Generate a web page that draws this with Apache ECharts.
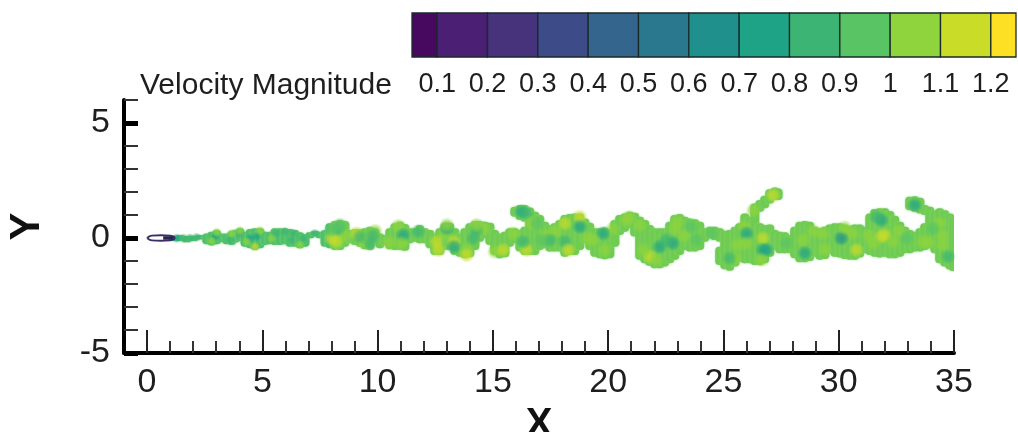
<!DOCTYPE html>
<html><head><meta charset="utf-8">
<style>html,body{margin:0;padding:0;background:#fff}#c{width:1018px;height:432px}#c canvas{filter:blur(.5px)}</style>
<script src="https://cdn.jsdelivr.net/npm/echarts@6/dist/echarts.min.js"></script>
</head><body><div id="c"></div>
<script>
const legendEdges=[0.05,0.1,0.2,0.3,0.4,0.5,0.6,0.7,0.8,0.9,1,1.1,1.2,1.25];
const legendColors=['#47085f','#4a1f74','#47327c','#3d4c89','#33658d','#2a788e','#20908c','#1fa387','#3cb574','#58c464','#8fd43c','#c8dc28','#fde023'];
const legendLabels=[0.1,0.2,0.3,0.4,0.5,0.6,0.7,0.8,0.9,1,1.1,1.2];
const xLabels=[0,5,10,15,20,25,30,35];
const xMinor=[1,2,3,4,6,7,8,9,11,12,13,14,16,17,18,19,21,22,23,24,26,27,28,29,31,32,33,34];
const yLabels=[-5,0,5];
const yMinor=[-4,-3,-2,-1,1,2,3,4,6];
// plume silhouette: [x, yLow, yHigh]
const plumeSegments=[
[1.14,-.13,.1],[1.43,-.13,.13],[1.72,-.19,.09],[2.01,-.13,.1],[2.3,-.06,.13],[2.59,-.27,.2],[2.8,-.33,.27],[3.02,-.27,.35],[3.24,-.19,.2],[3.45,-.27,.2],[3.67,-.3,.3],[3.85,-.2,.36],[4.03,-.13,.42],[4.25,-.38,.27],[4.47,-.45,.39],[4.68,-.52,.42],[4.9,-.45,.42],[5.12,-.3,.27],[5.33,-.27,.27],[5.55,-.3,.42],[5.77,-.3,.42],[5.98,-.27,.42],[6.2,-.38,.39],[6.42,-.38,.35],[6.63,-.45,.25],[6.85,-.38,.16],[7.07,-.01,.25],[7.28,.1,.3],[7.5,-.01,.27],[7.72,-.38,.35],[7.93,-.45,.64],[8.15,-.52,.74],[8.37,-.52,.78],[8.58,-.38,.74],[8.8,-.23,.35],
[9.02,-.3,.39],[9.23,-.38,.38],[9.45,-.49,.42],[9.67,-.52,.49],[9.88,-.23,.42],[10.1,-.45,.2],[10.32,-.3,.13],[10.53,-.49,.42],[10.75,-.52,.64],[10.97,-.52,.71],[11.18,-.55,.61],[11.4,-.23,.42],[11.62,-.16,.42],[11.83,-.23,.56],[12.05,-.23,.42],[12.27,-.45,.35],[12.48,-.74,.2],[12.7,-.74,.42],[12.92,-.52,.66],[13.13,-.52,.66],[13.35,-.74,.42],[13.57,-.81,.2],[13.78,-.88,.42],[14,-.84,.64],[14.22,-.52,.74],[14.43,-.16,.74],[14.65,-.01,.71],[14.87,-.3,.66],[15.08,-.74,.35],[15.3,-.88,.2],[15.52,-.84,.27],[15.73,-.38,.42],[15.95,-.23,.42],[15.95,.92,1.36],[16.17,-.59,.35],[16.17,.78,1.43],[16.38,-.74,.49],[16.38,.71,1.43],[16.6,-.74,1.33],[16.82,-.74,1.14],[17.03,-.52,1],[17.25,-.45,.71],[17.47,-.59,.56],[17.68,-.59,.64],[17.9,-.59,.78],
[18.12,-.81,1],[18.34,-.74,1.04],[18.55,-.74,1.07],[18.77,-.52,1.07],[18.99,-.23,.85],[19.2,-.52,.66],[19.42,-.81,.42],[19.64,-.88,.42],[19.85,-.92,.46],[20.07,-.88,.38],[20.29,-.38,.78],[20.5,.13,1],[20.72,.27,1.07],[20.94,.42,1.14],[21.15,.06,1.1],[21.37,-.95,.92],[21.59,-1.1,.78],[21.8,-1.21,.56],[22.02,-1.32,.42],[22.24,-1.32,.42],[22.45,-1.24,.42],[22.67,-1.1,.71],[22.89,-.95,1],[23.1,-.74,1.04],[23.32,-.52,.92],[23.54,-.59,.85],[23.76,-.59,.81],[23.97,-.52,.71],[24.19,-.16,.42],[24.41,-.01,.49],[24.62,-.09,.49],[24.84,-.16,.42],[24.84,-1.17,-.38],[25.06,-1.36,.32],[25.27,-1.42,.35],[25.5,-1.24,.49],[25.7,-1.03,.64],[25.93,-1.1,1.07],[26.14,-1.1,.92],[26.36,-1.17,1.5],[26.58,-1.17,.64],[26.58,1.14,1.65],[26.79,-1.1,.56],[26.79,1.29,1.84],[27.01,-.81,.59],[27.01,1.5,2.12],[27.23,-.52,.35],[27.23,1.65,2.2],[27.37,1.65,2.15],
[27.44,-.66,.27],[27.66,-.66,.25],[27.88,-.66,.13],[28.09,-.88,.49],[28.31,-1.05,.71],[28.53,-1.05,.74],[28.74,-1,.71],[28.96,-.81,.49],[29.18,-.95,.42],[29.4,-.91,.49],[29.61,-.66,.59],[29.83,-.81,.64],[30.05,-.85,.64],[30.26,-.91,.59],[30.48,-.95,.53],[30.7,-.95,.59],[30.91,-.85,.59],[31.13,-.66,.49],[31.35,-.74,1.07],[31.56,-.81,1.26],[31.78,-.85,1.29],[32,-.81,1.29],[32.22,-.88,1.17],[32.43,-.88,.97],[32.65,-.81,.71],[32.87,-.66,.49],[33.08,-.66,.35],[33.08,1.21,1.79],[33.3,-.59,.27],[33.3,1.14,1.82],[33.52,-.59,.42],[33.52,1.07,1.75],[33.73,-.52,.64],[33.73,1,1.43],[33.95,-.45,1.36],[34.17,-.66,1.21],[34.38,-1.1,1.29],[34.6,-1.24,1.21],[34.82,-1.37,1.07],[34.97,-1.43,.95]
];
// velocity patches inside the plume: [x, y, velocity]
const plumePatches=[
[8.6,.1,1.05],[9.9,.3,1.05],[10.5,-.2,1.05],[12.9,.2,1.05],[14.6,.4,1.05],[17.3,.1,1.05],[17.7,.3,1.05],[19.1,0,1.05],[20.2,.4,1.05],[20.9,.9,1.05],[22.9,.4,1.05],[23.3,.1,1.05],[24.5,.2,.95],[25.5,-.9,1.05],[25.9,.5,1.05],[26.3,1.2,1.05],[29.3,.2,1.05],[29.4,-.5,1.05],[31.3,.1,1.05],[32.6,.3,1.05],[33.9,-.2,1.05],[34.5,.1,1.05],[34.5,-.3,1.05],[28.9,.3,1],[30.6,.2,1.05],
[1.29,-.01,.75],[1.58,-.01,.85],[1.86,0,.8],[2.15,.03,.85],[2.95,.06,.75],[2.8,-.13,1.05],[3.02,.25,1.05],[3.6,-.09,.8],[3.67,.2,1],[4.03,.2,.8],[4.03,.32,1.05],[4.47,-.01,.75],[4.68,-.38,1.15],[4.32,-.16,1.05],[4.75,.06,.75],[4.9,.32,1.05],[5.4,-.01,1.05],[5.62,.2,.85],[5.98,.27,.85],[6.34,.2,.85],[6.27,-.09,.85],[6.78,-.01,.8],[6.63,-.3,1.05],[7.28,.2,.85],[8,-.01,1.1],[8.22,-.16,1.15],[8.29,.42,.8],[8.37,.56,.9],[8,.35,.95],
[9.09,.2,1.1],[9.38,-.16,1.05],[9.23,.06,.85],[9.81,.13,.8],[9.67,-.23,.85],[10.9,.52,1.05],[11.11,.13,.7],[11.04,-.23,1.05],[11.76,.27,.85],[12.56,-.16,1.1],[12.63,-.52,1.1],[13,.42,.75],[13,.56,1.05],[13.31,-.16,1.15],[13.31,-.38,.7],[13.86,-.52,1.05],[13.86,-.74,1.1],[14.29,.35,.85],[14.29,.56,1],[14.15,-.01,.85],[15.08,-.59,1.05],[15.45,-.52,1.1],[15.88,.2,1.05],[16.24,1.14,.72],[16.46,1.07,.8],[16.67,.64,1.05],[16.46,-.52,1.1],[16.31,-.16,.85],[16.89,.64,.9],[17.47,-.09,.85],[17.11,-.09,.95],
[18.12,.64,1.1],[18.77,.92,1.1],[18.77,.49,.75],[18.12,-.16,.85],[18.27,-.52,1.1],[19.78,.2,.75],[19.85,-.52,1.05],[19.35,-.09,1],[20.79,.78,1],[21.37,.56,1.05],[22.24,-.38,.72],[22.8,-.23,.75],[22.52,-.09,.8],[21.8,-.81,1.1],[22.09,-.95,1.05],[21.52,-.52,1],[23,.71,1.05],[23.83,-.09,.95],[23.6,.49,.9],[25.27,-.88,.85],[26,.2,.75],[26.71,-.01,1.15],[26.71,-.52,.72],[26.87,-.52,.7],[26,-.23,1.05],[25.6,-.3,1.05],
[27.15,1.86,1.15],[26.65,-.95,1],[28.45,-.09,1.05],[28.53,-.66,.72],[30.11,-.01,.68],[30.77,-.52,1.1],[30.26,.45,1],[31.85,.78,.78],[31.63,.92,.85],[31.85,.06,1.1],[32,.13,1.15],[32.35,-.16,1.05],[31.49,-.23,1],[33.3,1.43,.72],[33.66,-.16,1.08],[34.38,.64,1.05],[34.74,-.81,.8],[34.09,.42,.9],[32.94,-.01,.9],[27.73,-.23,.9]
];
const bodyOutline=[[0,0],[.2,.1],[.6,.12],[1,.1],[1.2,0],[1,-.1],[.6,-.12],[.2,-.1],[0,0]];
const bodyCore=[[.7,0],[1.15,0]];

function patchColor(v){let i=0;while(i<legendColors.length-1&&v>=legendEdges[i+1])i++;return legendColors[i];}
const font='"Liberation Sans",Arial,sans-serif', ink='#1e1e1e';
const chart=echarts.init(document.getElementById('c'),null,{renderer:'canvas'});
const hidden={show:false};
chart.setOption({
 animation:false,backgroundColor:'#fff',
 title:{text:'Velocity Magnitude',left:135,top:66,textStyle:{fontFamily:font,fontSize:30,fontWeight:'normal',color:ink}},
 grid:[{left:124,right:64,top:100,bottom:79,outerBoundsMode:'none'},{left:412,right:2,top:13,bottom:375,outerBoundsMode:'none'}],
 xAxis:[
  {type:'value',gridIndex:0,position:'bottom',min:-1,max:35,splitLine:hidden,
   axisLine:{onZero:false,lineStyle:{color:'#000',width:4}},
   axisTick:{inside:true,length:23,customValues:xLabels,lineStyle:{color:'#222',width:2}},
   axisLabel:{customValues:xLabels,margin:13,fontFamily:font,fontSize:34,color:ink},
   name:'X',nameLocation:'middle',nameGap:50,nameTextStyle:{fontFamily:font,fontSize:40,fontWeight:'bold',color:'#111'}},
  {type:'value',gridIndex:0,position:'bottom',min:-1,max:35,splitLine:hidden,
   axisLine:{show:false,onZero:false},axisLabel:hidden,
   axisTick:{inside:true,length:12,customValues:xMinor,lineStyle:{color:'#333',width:2}}},
  {type:'value',gridIndex:1,position:'bottom',min:0.05,max:1.25,splitLine:hidden,
   axisLine:hidden,axisTick:hidden,
   axisLabel:{customValues:legendLabels,margin:14,fontFamily:font,fontSize:27,color:ink}}
 ],
 yAxis:[
  {type:'value',gridIndex:0,position:'left',min:-5,max:6,splitLine:hidden,
   axisLine:{onZero:false,lineStyle:{color:'#000',width:4}},
   axisTick:{inside:true,length:14,customValues:yLabels,lineStyle:{color:'#000',width:5}},
   axisLabel:{customValues:yLabels,margin:14,fontFamily:font,fontSize:34,color:ink},
   name:'Y',nameLocation:'middle',nameGap:76,nameTextStyle:{fontFamily:font,fontSize:42,fontWeight:'bold',color:'#111'}},
  {type:'value',gridIndex:0,position:'left',min:-5,max:6,splitLine:hidden,
   axisLine:{show:false,onZero:false},axisLabel:hidden,
   axisTick:{inside:true,length:14,customValues:yMinor,lineStyle:{color:'#333',width:2}}},
  {type:'value',gridIndex:1,min:0,max:1,show:false}
 ],
 series:[
  {type:'custom',xAxisIndex:2,yAxisIndex:2,silent:true,
   data:legendColors.map((c,i)=>[legendEdges[i],legendEdges[i+1],i]),
   encode:{x:[0,1]},
   renderItem(p,api){
     const a=api.coord([api.value(0),1]),b=api.coord([api.value(1),0]);
     return {type:'rect',shape:{x:a[0],y:a[1],width:b[0]-a[0],height:b[1]-a[1]},
       style:{fill:legendColors[api.value(2)],stroke:'#1a2a2a',lineWidth:1.3}};
   }},
  {type:'custom',xAxisIndex:0,yAxisIndex:0,clip:true,silent:true,data:plumeSegments,
   encode:{x:0,y:[1,2]},
   renderItem(p,api){
     const t=api.coord([api.value(0),api.value(2)]),b=api.coord([api.value(0),api.value(1)]);
     const w=9;
     return {type:'rect',shape:{x:t[0]-w/2,y:t[1],width:w,height:Math.max(b[1]-t[1],2),r:4},
       style:{fill:api.value(0)<8?'#4fc06a':'#6fcc50',shadowBlur:2,shadowColor:'#8fd88a'}};
   }},
  {type:'scatter',xAxisIndex:0,yAxisIndex:0,silent:true,clip:true,
   symbolSize:d=>d[0]<7.5?10:16,
   data:plumePatches,
   itemStyle:{color:p=>{const c=patchColor(p.value[2]);
     return new echarts.graphic.RadialGradient(.5,.5,.5,[{offset:0,color:c},{offset:.5,color:c+'cc'},{offset:1,color:c+'00'}]);}}},
  {type:'line',xAxisIndex:0,yAxisIndex:0,silent:true,smooth:true,symbol:'none',data:bodyOutline,
   lineStyle:{color:'#3a2f66',width:1.8}},
  {type:'line',xAxisIndex:0,yAxisIndex:0,silent:true,symbol:'none',data:bodyCore,
   lineStyle:{color:'#2a2350',width:3.5}}
 ]
});
</script></body></html>
